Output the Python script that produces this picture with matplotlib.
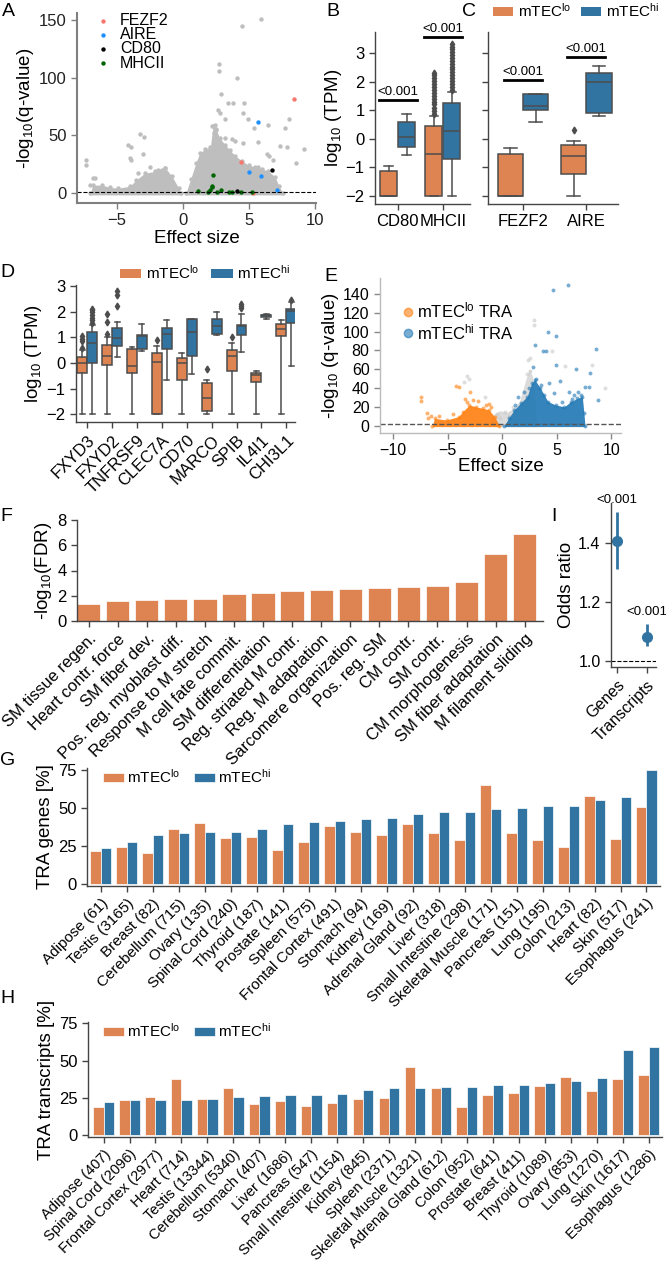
import matplotlib
matplotlib.use("Agg")
import matplotlib.pyplot as plt
from matplotlib.patches import Patch
from matplotlib.lines import Line2D
import numpy as np

plt.rcParams['font.family'] = ['Liberation Sans', 'DejaVu Sans']
plt.rcParams['mathtext.default'] = 'regular'
plt.rcParams['font.size'] = 11

W, H = 666, 1267
ORANGE = '#dd8452'
BLUE = '#3274a1'
SPINE = '#444444'
LO = 'mTEC$^{lo}$'
HI = 'mTEC$^{hi}$'

# ---------------- panel A: volcano ----------------
a_gray_x = [4.47, 5.93, 2.78, 2.78, 4.09, 2.88, 3.46, 3.79, 4.67, 2.70, 2.83, 4.60, 4.92, 3.20,
            6.49, 5.40, 8.08, 7.75, 3.76, 3.96, 3.20, 4.60, 5.68, 7.37, 7.88, 9.19, 8.56, 6.36,
            6.57, 6.87, 5.73, 2.20, 2.45, 2.55, 2.35,
            -7.35, -7.35, -7.02, -6.77, -6.64, -3.23, -2.90, -4.12, -3.91, -2.98, -4.00, -3.90,
            -1.34, -1.64, -1.90, -3.36, -2.50]
a_gray_y = [145, 151, 111.6, 105.8, 100, 85.5, 78, 78, 78, 72, 69.6, 69.6, 63.8, 63.8,
            59, 56.5, 63.8, 56.5, 47, 45, 47.8, 43.5, 44.6, 40.6, 40, 38.3, 26, 33.9,
            31.9, 29, 23, 58, 59.4, 55, 52,
            28.4, 24.6, 7.2, 13, 13, 51.6, 48.4, 41.4, 40, 34.2, 30.4, 29,
            21.7, 18.8, 20, 17.4, 23]
a_left_x = [-7.0, -6.8, -6.1, -5.5, -4.9, -4.0, -3.5, -2.85, -2.1, -1.6, -1.3, -0.8, -0.3, -0.1]
a_left_y = [0, 7, 7, 5, 4.3, 6, 11.6, 17.4, 18.8, 20, 21.7, 14.5, 4.3, 0]
a_right_x = [0.25, 0.6, 1.0, 1.3, 1.7, 2.1, 2.3, 2.5, 2.8, 3.2, 3.6, 4.0, 4.5, 5.0, 5.5, 6.0,
             6.5, 7.0, 7.3, 7.6]
a_right_y = [0, 12, 26, 35, 38, 40, 58, 56, 48, 42, 37, 32, 28, 24, 23, 21, 19, 14, 6, 0]
a_fezf2_x, a_fezf2_y = [8.41, 4.44, 5.35], [81.7, 27, 0.3]
a_aire_x, a_aire_y = [5.68, 5.05, 5.93, 7.12], [62, 18, 15, 2.9]
a_cd80_x, a_cd80_y = [6.79, 4.09], [20.3, 1.7]
a_mhcii_x = [2.27, 1.19, 1.94, 2.07, 2.20, 2.25, 2.63, 2.90, 3.54, 3.71, 4.42, 5.23]
a_mhcii_y = [16, 2.0, 0.6, 2.9, 5.2, 6.4, 1.4, 2.9, 0.9, 1.4, 0.9, 1.4]

# ---------------- panels B/C: box stats (q1, med, q3, whislo, whishi) ----------------
bc_genes = ['CD80', 'MHCII', 'FEZF2', 'AIRE']
bc_lo_q1 = [-2, -2, -2, -1.24]
bc_lo_med = [-2, -0.52, -2, -0.59]
bc_lo_q3 = [-1.14, 0.44, -0.53, -0.23]
bc_lo_wlo = [-2, -2, -2, -2]
bc_lo_whi = [-0.95, 0.81, -0.31, -0.08]
bc_lo_fl = [[], [0.88, 0.98, 1.08, 1.2, 1.3, 1.4, 1.5, 1.6, 1.72, 1.82, 1.92, 2.02, 2.12, 2.22, 2.3],
            [], [0.29]]
bc_hi_q1 = [-0.29, -0.72, 1.01, 0.9]
bc_hi_med = [0.06, 0.27, 1.13, 1.99]
bc_hi_q3 = [0.58, 1.26, 1.55, 2.29]
bc_hi_wlo = [-0.58, -2, 0.58, 0.78]
bc_hi_whi = [0.87, 1.62, 1.55, 2.55]
bc_hi_fl = [[], [1.72, 1.82, 1.92, 2.02, 2.12, 2.22, 2.32, 2.42, 2.52, 2.62, 2.72, 2.82, 2.92,
                 3.02, 3.12, 3.22, 3.32], [], []]
bc_sig_y = [1.36, 3.55, 2.06, 2.87]

# ---------------- panel D ----------------
d_genes = ['FXYD3', 'FXYD2', 'TNFRSF9', 'CLEC7A', 'CD70', 'MARCO', 'SPIB', 'IL4I1', 'CHI3L1']
d_lo_q1 = [-0.39, -0.06, -0.39, -2.0, -0.67, -1.86, -0.31, -0.74, 1.06]
d_lo_med = [0.0, 0.27, -0.11, 0.04, 0.0, -1.35, 0.27, -0.45, 1.32]
d_lo_q3 = [0.24, 0.72, 0.54, 0.41, 0.18, -0.78, 0.5, -0.37, 1.51]
d_lo_wlo = [-2, -2, -2, -2, -2, -2, -2, -2, -2]
d_lo_whi = [0.5, 1.02, 0.63, 0.67, 0.41, -0.67, 0.8, -0.32, 1.67]
d_lo_fl = [[0.6, 0.85, 0.95, 1.05], [1.12, 1.62, 1.92], [], [0.9], [], [-0.24], [1.02], [], []]
d_hi_q1 = [0.0, 0.67, 0.54, 0.54, 0.28, 1.15, 1.08, 1.8, 1.56]
d_hi_med = [0.8, 0.98, 1.04, 1.15, 1.21, 1.45, 1.45, 1.86, 2.02]
d_hi_q3 = [1.21, 1.39, 1.11, 1.37, 1.71, 1.73, 1.47, 1.89, 2.1]
d_hi_wlo = [-2, 0.24, 0.46, -0.67, -0.44, 1.08, 0.44, 1.71, -0.11]
d_hi_whi = [1.5, 1.6, 1.54, 1.67, 1.73, 2.0, 1.93, 1.93, 2.38]
d_hi_fl = [[1.58, 1.68, 1.78, 1.88, 1.98, 2.06, 2.12], [2.24, 2.64, 2.82], [], [], [], [],
           [2.15, 2.22, 2.3], [], [2.46]]

# ---------------- panel E: TRA volcano ----------------
e_gray_x = [2.9, 2.9, 4.6, 5.8, 8.25, 9.4, 2.4, 2.6, -3.2, -3.0, 2.6, 2.3, -0.5, 0.3, -0.2,
            0.6, -1.6, 1.0, -3.5]
e_gray_y = [112, 107, 79, 63, 64.7, 39.8, 70, 72, 53, 50, 58, 55, 12, 14, 8, 10, 30, 20, 46]
e_gray_env_x = [-1.4, -0.8, -0.2, 0.4, 1.0, 1.6, 2.2, 2.5, 2.8, 3.2]
e_gray_env_y = [0, 12, 16, 14, 18, 26, 50, 60, 52, 0]
e_lo_env_x = [-6.4, -6.2, -5.1, -4.0, -3.6, -3.0, -2.4, -1.8, -1.2, -0.7, -0.25]
e_lo_env_y = [0, 7.8, 6, 9.6, 15, 22, 20, 18.5, 16.7, 9.6, 0]
e_lo_x = [-7.48, -7.48, -4.2, -3.98, -2.98, -1.22, -6.93, -6.78, -3.4, -1.5, -2.2, -5.8, -6.5,
          -4.5, -3.2, -2.7, -1.0]
e_lo_y = [30, 26.3, 42, 41, 35.5, 23, 13, 7.8, 28, 22, 26, 10, 10.5, 12, 25, 27, 20]
e_hi_env_x = [0.2, 0.6, 1.1, 1.7, 2.3, 2.7, 3.0, 3.5, 4.2, 4.9, 5.7, 6.3, 6.9, 7.35, 7.5, 7.6]
e_hi_env_y = [0, 8, 16.7, 24, 31, 45, 48.7, 40, 25.6, 22, 20, 25.6, 29, 31, 13, 0]
e_hi_x = [6.08, 4.65, 4.16, 4.92, 3.0, 3.77, 4.0, 8.57, 4.98, 6.75, 8.1, 7.57, 7.96, 8.78,
          6.14, 4.3, 3.55, 5.3, 4.8, 3.1, 2.8, 6.4, 1.5, 2.0, 2.5, 3.8, 5.5, 6.6, 7.2, 7.0, 1.2]
e_hi_y = [150, 144.6, 100, 95, 86, 79, 79, 81.7, 64, 60, 56, 41.6, 41, 27.4,
          36, 45, 43, 48, 35, 50, 62, 28, 30, 36, 40, 33, 25, 33, 33, 36, 22]

# ---------------- panel F ----------------
f_terms = ['SM tissue regen.', 'Heart contr. force', 'SM fiber dev.', 'Pos. reg. myoblast diff.',
           'Response to M stretch', 'M cell fate commit.', 'SM differentiation',
           'Reg. striated M contr.', 'Reg. M adaptation', 'Sarcomere organization',
           'Pos. reg. SM', 'CM contr.', 'SM contr.', 'CM morphogenesis',
           'SM fiber adaptation', 'M filament sliding']
f_vals = [1.35, 1.58, 1.69, 1.71, 1.74, 2.16, 2.19, 2.37, 2.48, 2.56, 2.59, 2.69, 2.8, 3.11,
          5.28, 6.89]

# ---------------- panel I ----------------
i_labels = ['Genes', 'Transcripts']
i_or = [1.407, 1.082]
i_low = [1.31, 1.05]
i_high = [1.506, 1.125]

# ---------------- panel G ----------------
g_tissues = ['Adipose (61)', 'Testis (3165)', 'Breast (82)', 'Cerebellum (715)', 'Ovary (135)',
             'Spinal Cord (240)', 'Thyroid (187)', 'Prostate (141)', 'Spleen (575)',
             'Frontal Cortex (491)', 'Stomach (94)', 'Kidney (169)', 'Adrenal Gland (92)',
             'Liver (318)', 'Small Intestine (298)', 'Skeletal Muscle (171)', 'Pancreas (151)',
             'Lung (195)', 'Colon (213)', 'Heart (82)', 'Skin (517)', 'Esophagus (241)']
g_lo = [21.7, 24, 20, 36.2, 40, 30.2, 30.4, 22.2, 27.3, 38.2, 33.7, 32, 39, 33, 28.8, 64.8,
        33, 29, 24.2, 57.5, 29.3, 50.6]
g_hi = [23.3, 27.7, 32.2, 33.3, 34.2, 34.2, 35.9, 39, 40.4, 41.5, 42.4, 43, 45.5, 46.8, 47.3,
        48.8, 49.5, 51, 50.8, 54.8, 57, 75]

# ---------------- panel H ----------------
h_tissues = ['Adipose (407)', 'Spinal Cord (2096)', 'Frontal Cortex (2977)', 'Heart (714)',
             'Testis (13344)', 'Cerebellum (5340)', 'Stomach (407)', 'Liver (1686)',
             'Pancreas (547)', 'Small Intestine (1154)', 'Kidney (845)', 'Spleen (2371)',
             'Skeletal Muscle (1321)', 'Adrenal Gland (612)', 'Colon (952)', 'Prostate (641)',
             'Breast (411)', 'Thyroid (1089)', 'Ovary (853)', 'Lung (1270)', 'Skin (1617)',
             'Esophagus (1286)']
h_lo = [18.8, 23.2, 25.4, 37.4, 23.9, 31.6, 20.6, 22.6, 19.2, 21.2, 23.9, 24.8, 46, 31.6, 18.6,
        27, 28.3, 33.2, 38.7, 29.4, 37.6, 40]
h_hi = [22.1, 23.2, 23.2, 23.7, 23.9, 25.4, 26.1, 26.8, 26.8, 27.4, 30.3, 31.2, 31.6, 32.3, 32.3,
        33.4, 33.4, 34.7, 36.3, 38, 57.3, 59.3]


def add_ax(fig, left, top, right, bottom):
    return fig.add_axes([left / W, 1 - bottom / H, (right - left) / W, (bottom - top) / H])


def style(ax, color=SPINE, lw=1.0, size=12):
    for s in ['top', 'right']:
        ax.spines[s].set_visible(False)
    for s in ['left', 'bottom']:
        ax.spines[s].set_color(color)
        ax.spines[s].set_linewidth(lw)
    ax.tick_params(direction='out', length=4, width=1, color=color, labelsize=size)


def letter(fig, x, y, s):
    fig.text(x / W, 1 - y / H, s, fontsize=14, va='top', ha='left')


def boxes(ax, pos, q1, med, q3, wlo, whi, fl, color, width):
    stats = []
    for i in range(len(pos)):
        stats.append(dict(q1=q1[i], med=med[i], q3=q3[i], whislo=wlo[i], whishi=whi[i],
                          fliers=fl[i]))
    ax.bxp(stats, positions=pos, widths=width, patch_artist=True, manage_ticks=False,
           boxprops=dict(facecolor=color, edgecolor='#4d4d4d', linewidth=1.1),
           medianprops=dict(color='#4d4d4d', linewidth=1.1),
           whiskerprops=dict(color='#4d4d4d', linewidth=1.1),
           capprops=dict(color='#4d4d4d', linewidth=1.1),
           flierprops=dict(marker='d', markerfacecolor='#4d4d4d', markeredgecolor='#4d4d4d',
                           markersize=3.5))


fig = plt.figure(figsize=(W / 100, H / 100), dpi=100)

# ---- A ----
ax = add_ax(fig, 77, 13, 316, 203)
ax.fill_between(a_left_x, -1.5, a_left_y, color='#bebebe', lw=0)
ax.fill_between(a_right_x, -1.5, a_right_y, color='#bebebe', lw=0)
ax.scatter(a_left_x + a_right_x + a_gray_x, a_left_y + a_right_y + a_gray_y, s=10,
           color='#bebebe', lw=0)
ax.scatter(a_fezf2_x, a_fezf2_y, s=10, color='#f8766d', lw=0, label='FEZF2')
ax.scatter(a_aire_x, a_aire_y, s=10, color='#1e90ff', lw=0, label='AIRE')
ax.scatter(a_cd80_x, a_cd80_y, s=10, color='black', lw=0, label='CD80')
ax.scatter(a_mhcii_x, a_mhcii_y, s=10, color='#006400', lw=0, label='MHCII')
ax.axhline(1.3, color='black', ls='--', lw=0.8)
ax.set_xlim(-8.0, 10.1)
ax.set_ylim(-8.5, 156)
ax.set_xticks([-5, 0, 5, 10])
ax.set_yticks([0, 50, 100, 150])
style(ax, '#7f7f7f', 1.5)
ax.tick_params(labelcolor='#222222')
ax.set_xlabel('Effect size', fontsize=13.5, labelpad=1)
ax.set_ylabel('-log$_{10}$(q-value)', fontsize=13.5, labelpad=2)
ax.legend(loc='upper left', bbox_to_anchor=(0.0, 1.05), frameon=False, fontsize=11.5,
          handletextpad=0.1, labelspacing=-0.05, markerscale=1.0, borderaxespad=0.2)
letter(fig, 2, 3, 'A')

# ---- B ----
ax = add_ax(fig, 375, 32, 470, 204)
boxes(ax, [-0.2, 0.8], bc_lo_q1[:2], bc_lo_med[:2], bc_lo_q3[:2], bc_lo_wlo[:2], bc_lo_whi[:2],
      bc_lo_fl[:2], ORANGE, 0.38)
boxes(ax, [0.2, 1.2], bc_hi_q1[:2], bc_hi_med[:2], bc_hi_q3[:2], bc_hi_wlo[:2], bc_hi_whi[:2],
      bc_hi_fl[:2], BLUE, 0.38)
for i in range(2):
    ax.plot([i - 0.42, i + 0.42], [bc_sig_y[i]] * 2, color='black', lw=2, clip_on=False)
    ax.text(i, bc_sig_y[i] + 0.06, '<0.001', ha='center', va='bottom', fontsize=9.5)
ax.set_xlim(-0.5, 1.6)
ax.set_ylim(-2.28, 3.73)
ax.set_xticks([0, 1])
ax.set_xticklabels(bc_genes[:2])
ax.set_yticks([-2, -1, 0, 1, 2, 3])
style(ax)
ax.set_ylabel('log$_{10}$ (TPM)', fontsize=13.5, labelpad=1)
letter(fig, 326, 3, 'B')

# ---- C ----
ax = add_ax(fig, 488, 32, 618, 204)
boxes(ax, [-0.2, 0.8], bc_lo_q1[2:], bc_lo_med[2:], bc_lo_q3[2:], bc_lo_wlo[2:], bc_lo_whi[2:],
      bc_lo_fl[2:], ORANGE, 0.4)
boxes(ax, [0.2, 1.2], bc_hi_q1[2:], bc_hi_med[2:], bc_hi_q3[2:], bc_hi_wlo[2:], bc_hi_whi[2:],
      bc_hi_fl[2:], BLUE, 0.4)
for i in range(2):
    ax.plot([i - 0.3, i + 0.3], [bc_sig_y[i + 2]] * 2, color='black', lw=2)
    ax.text(i, bc_sig_y[i + 2] + 0.06, '<0.001', ha='center', va='bottom', fontsize=9.5)
ax.set_xlim(-0.55, 1.5)
ax.set_ylim(-2.28, 3.73)
ax.set_xticks([0, 1])
ax.set_xticklabels(bc_genes[2:])
ax.set_yticks([-2, -1, 0, 1, 2, 3])
ax.set_yticklabels([])
style(ax)
letter(fig, 462, 3, 'C')
handles = [Patch(facecolor=ORANGE), Patch(facecolor=BLUE)]
ax.legend(handles, [LO, HI], loc='center', bbox_to_anchor=(576 / W, 1 - 11 / H),
          bbox_transform=fig.transFigure, ncol=2, frameon=False, fontsize=11,
          handlelength=1.3, handleheight=0.6, handletextpad=0.3, columnspacing=0.7,
          borderpad=0.1)

# ---- D ----
ax = add_ax(fig, 76, 285, 295, 422)
xs = np.arange(len(d_genes))
boxes(ax, xs - 0.2, d_lo_q1, d_lo_med, d_lo_q3, d_lo_wlo, d_lo_whi, d_lo_fl, ORANGE, 0.4)
boxes(ax, xs + 0.2, d_hi_q1, d_hi_med, d_hi_q3, d_hi_wlo, d_hi_whi, d_hi_fl, BLUE, 0.4)
ax.set_xlim(-0.45, 8.35)
ax.set_ylim(-2.3, 3.05)
ax.set_xticks(xs)
ax.set_xticklabels(d_genes, rotation=45, ha='right', rotation_mode='anchor')
ax.set_yticks([-2, -1, 0, 1, 2, 3])
style(ax)
ax.set_ylabel('log$_{10}$ (TPM)', fontsize=13.5, labelpad=2)
ax.legend(handles, [LO, HI], loc='center', bbox_to_anchor=(205 / W, 1 - 273 / H),
          bbox_transform=fig.transFigure, ncol=2, frameon=False, fontsize=11,
          handlelength=1.4, handleheight=0.6, handletextpad=0.3, columnspacing=0.8)
letter(fig, 0, 264, 'D')

# ---- E ----
ax = add_ax(fig, 380, 278, 621, 433)
ax.fill_between(e_gray_env_x, -1, e_gray_env_y, color='#cccccc', alpha=0.7, lw=0)
ax.scatter(e_gray_x, e_gray_y, s=8, color='#c8c8c8', alpha=0.6, lw=0)
ax.fill_between(e_lo_env_x, -1, e_lo_env_y, color='#ff7f0e', alpha=0.9, lw=0)
ax.scatter(e_lo_env_x + e_lo_x, e_lo_env_y + e_lo_y, s=8, color='#ff7f0e', alpha=0.6, lw=0)
ax.fill_between(e_hi_env_x, -1, e_hi_env_y, color='#1f77b4', alpha=0.9, lw=0)
ax.scatter(e_hi_env_x + e_hi_x, e_hi_env_y + e_hi_y, s=8, color='#1f77b4', alpha=0.6, lw=0)
ax.axhline(1.3, color='#555555', ls='--', lw=1.0)
ax.set_xlim(-11.2, 10.9)
ax.set_ylim(-7.8, 157)
ax.set_xticks([-10, -5, 0, 5, 10])
ax.set_yticks(range(0, 141, 20))
style(ax, '#bbbbbb', 1.0, 11.5)
ax.tick_params(colors='#888888', labelcolor='black')
ax.set_xlabel('Effect size', fontsize=13.5, labelpad=0)
ax.set_ylabel('-log$_{10}$ (q-value)', fontsize=13.5, labelpad=1)
eh = [Line2D([], [], ls='', marker='o', ms=6, color='#ff7f0e', alpha=0.6),
      Line2D([], [], ls='', marker='o', ms=6, color='#1f77b4', alpha=0.6)]
ax.legend(eh, [LO + ' TRA', HI + ' TRA'], loc='upper left', bbox_to_anchor=(0.02, 0.95),
          frameon=False, fontsize=12, handletextpad=0.05, labelspacing=0.1, handlelength=1.0)
letter(fig, 324, 268, 'E')

# ---- F ----
ax = add_ax(fig, 77, 520, 543, 621)
xf = np.arange(len(f_terms))
ax.bar(xf, f_vals, width=0.8, color=ORANGE, edgecolor='white', lw=0.5)
ax.set_xlim(-0.4, 15.63)
ax.set_ylim(0, 8)
ax.set_yticks([0, 2, 4, 6, 8])
ax.set_xticks(xf)
style(ax)
ax.set_xticklabels(f_terms, rotation=45, ha='right', rotation_mode='anchor', fontsize=12)
ax.set_ylabel('-log$_{10}$(FDR)', fontsize=13.5, labelpad=2)
letter(fig, 0, 508, 'F')

# ---- I ----
ax = add_ax(fig, 611, 503, 656, 667)
xi = np.arange(len(i_labels))
yerr = [np.array(i_or) - np.array(i_low), np.array(i_high) - np.array(i_or)]
ax.errorbar(xi, i_or, yerr=yerr, fmt='o', color=BLUE, ms=7, elinewidth=2, capsize=0)
for k in range(2):
    ax.text(xi[k], i_high[k] + 0.02, '<0.001', ha='center', va='bottom', fontsize=9.5,
            clip_on=False)
ax.axhline(1.0, color='black', ls='--', lw=0.8)
ax.set_xlim(-0.2, 1.3)
ax.set_ylim(0.98, 1.535)
ax.set_yticks([1.0, 1.2, 1.4])
ax.set_xticks(xi)
style(ax, size=11.5)
ax.set_xticklabels(i_labels, rotation=45, ha='right', rotation_mode='anchor')
ax.set_ylabel('Odds ratio', fontsize=13.5, labelpad=2)
letter(fig, 551, 508, 'I')

# ---- G ----
ax = add_ax(fig, 87, 768, 660, 886)
xg = np.arange(len(g_tissues))
ax.bar(xg - 0.2, g_lo, width=0.4, color=ORANGE, edgecolor='white', lw=0.5, label=LO)
ax.bar(xg + 0.2, g_hi, width=0.4, color=BLUE, edgecolor='white', lw=0.5, label=HI)
ax.set_xlim(-0.53, 21.52)
ax.set_ylim(-1.5, 76)
ax.set_yticks([0, 25, 50, 75])
ax.set_xticks(xg)
style(ax)
ax.set_xticklabels(g_tissues, rotation=45, ha='right', rotation_mode='anchor', fontsize=11)
ax.set_ylabel('TRA genes [%]', fontsize=13.5, labelpad=3)
ax.legend(loc='center', bbox_to_anchor=(187 / W, 1 - 777 / H), bbox_transform=fig.transFigure,
          ncol=2, frameon=False, fontsize=11, handlelength=1.4, handleheight=0.6,
          handletextpad=0.2, columnspacing=0.9)
letter(fig, 0, 752, 'G')

# ---- H ----
ax = add_ax(fig, 88, 1022, 662, 1137)
xh = np.arange(len(h_tissues))
ax.bar(xh - 0.2, h_lo, width=0.4, color=ORANGE, edgecolor='white', lw=0.5, label=LO)
ax.bar(xh + 0.2, h_hi, width=0.4, color=BLUE, edgecolor='white', lw=0.5, label=HI)
ax.set_xlim(-0.6, 21.52)
ax.set_ylim(-1.5, 76)
ax.set_yticks([0, 25, 50, 75])
ax.set_xticks(xh)
style(ax)
ax.set_xticklabels(h_tissues, rotation=45, ha='right', rotation_mode='anchor', fontsize=10.5)
ax.set_ylabel('TRA transcripts [%]', fontsize=13.5, labelpad=3)
ax.legend(loc='center', bbox_to_anchor=(187 / W, 1 - 1031 / H), bbox_transform=fig.transFigure,
          ncol=2, frameon=False, fontsize=11, handlelength=1.4, handleheight=0.6,
          handletextpad=0.2, columnspacing=0.9)
letter(fig, 0, 990, 'H')

fig.savefig('out.png', dpi=100)
